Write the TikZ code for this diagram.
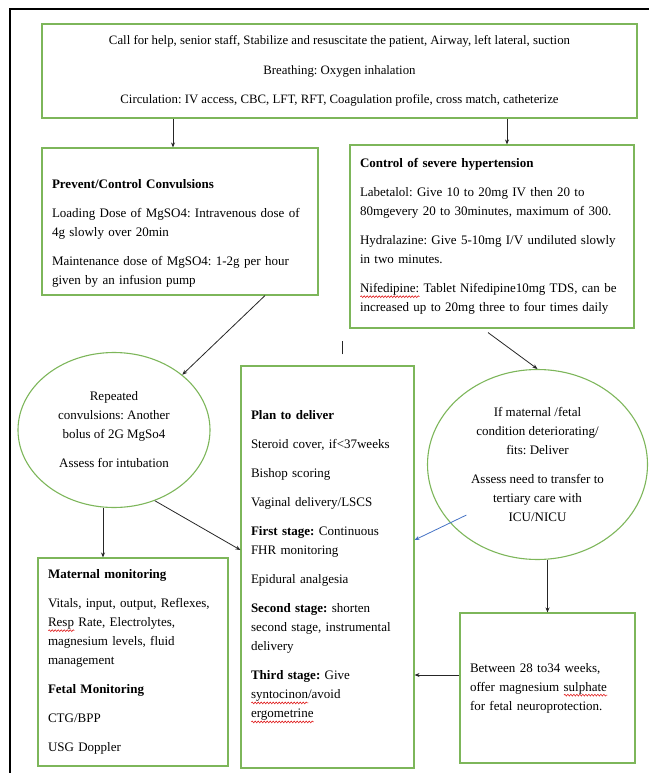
\documentclass[tikz,border=0pt]{standalone}
\usepackage{fontspec}
\setmainfont{Liberation Serif}
\usepackage{tikz}
\usetikzlibrary{arrows.meta,shapes.geometric,decorations.pathmorphing}
\definecolor{pegreen}{HTML}{7DB65A}
\definecolor{peblue}{HTML}{4472C4}
\definecolor{pedark}{HTML}{262626}
\definecolor{pered}{HTML}{E02020}
\newlength{\spellw}
\newcommand{\spellmark}[1]{\leavevmode\settowidth{\spellw}{#1}\rlap{\tikz[baseline=0pt,x=1pt,y=1pt]\draw[pered,line width=0.6pt,decorate,decoration={snake,amplitude=0.9pt,segment length=3pt}] (0pt,-4pt) -- (\the\spellw,-4pt);}#1}
\newcommand{\pgap}{\\[10pt]}
\frenchspacing

\begin{document}
\begin{tikzpicture}[x=1pt,y=-1pt,
  box/.style={draw=pegreen,line width=1.1pt,inner xsep=10pt,inner ysep=0pt,align=left,font=\fontsize{13}{19}\selectfont},
  blob/.style={ellipse,draw=pegreen,line width=1.1pt,inner sep=0pt,align=center,font=\fontsize{13}{19}\selectfont},
  arr/.style={-{Stealth[length=5pt,width=4pt]},pedark,line width=0.8pt}]
\useasboundingbox (0,0) rectangle (649,773);
\draw[line width=1.6pt] (10,773) -- (10,9) -- (649,9);
\node[box,align=center,minimum width=595pt,minimum height=94pt,font=\fontsize{12.8}{29.5}\selectfont] (top) at (339.5,71) {Call for help, senior staff, Stabilize and resuscitate the patient, Airway, left lateral, suction\\Breathing: Oxygen inhalation\\Circulation: IV access, CBC, LFT, RFT, Coagulation profile, cross match, catheterize};
\node[box,text width=256pt,minimum height=147pt] (prev) at (180,221.5) {\rule{0pt}{33pt}\textbf{Prevent/Control Convulsions}\pgap Loading Dose of MgSO4: Intravenous dose of\\4g slowly over 20min\pgap Maintenance dose of MgSO4: 1-2g per hour\\given by an infusion pump};
\node[box,text width=264pt,minimum height=183pt] (hyp) at (492,236.5) {\textbf{Control of severe hypertension}\pgap Labetalol: Give 10 to 20mg IV then 20 to\\80mgevery 20 to 30minutes, maximum of 300.\pgap Hydralazine: Give 5-10mg I/V undiluted slowly\\in two minutes.\pgap \spellmark{Nifedipine:} Tablet Nifedipine10mg TDS, can be\\increased up to 20mg three to four times daily};
\node[blob,minimum width=192pt,minimum height=155pt] (lell) at (114,430) {Repeated\\convulsions: Another\\bolus of 2G MgSo4\pgap Assess for intubation};
\node[box,text width=153pt,minimum height=402pt] (plan) at (327.5,567) {\textbf{Plan to deliver}\pgap Steroid cover, if<37weeks\pgap Bishop scoring\pgap Vaginal delivery/LSCS\pgap \textbf{First stage:} Continuous\\FHR monitoring\pgap Epidural analgesia\pgap \textbf{Second stage:} shorten\\second stage, instrumental\\delivery\pgap \textbf{Third stage:} Give\\\spellmark{syntocinon}/avoid\\\spellmark{ergometrine}};
\node[blob,minimum width=220pt,minimum height=190pt] (rell) at (537.5,464.5) {If maternal /fetal\\condition deteriorating/\\fits: Deliver\pgap Assess need to transfer to\\tertiary care with\\ICU/NICU};
\node[box,text width=170pt,minimum height=208pt] (mat) at (133,662) {\textbf{Maternal monitoring}\pgap Vitals, input, output, Reflexes,\\\spellmark{Resp} Rate, Electrolytes,\\magnesium levels, fluid\\management\pgap \textbf{Fetal Monitoring}\pgap CTG/BPP\pgap USG Doppler};
\node[box,text width=155pt,minimum height=150pt] (rbox) at (547.5,688) {Between 28 to34 weeks,\\offer magnesium \spellmark{sulphate}\\for fetal neuroprotection.};
\draw[arr] ([xshift=-7pt]prev.north |- top.south) -- ([xshift=-7pt]prev.north);
\draw[arr] ([xshift=15pt]hyp.north |- top.south) -- ([xshift=15pt]hyp.north);
\draw[arr] ([xshift=85pt]prev.south) -- (lell.north east);
\draw[arr] ([shift={(-4pt,-4pt)}]hyp.south) -- (rell.north);
\draw[arr] ([xshift=-11pt]lell.south) -- ([xshift=-11pt]lell.south |- mat.north);
\draw[arr] (lell.300) -- ([yshift=17pt]plan.west);
\draw[arr,peblue] ([shift={(7pt,17pt)}]rell.south west) -- ([yshift=27pt]plan.east);
\draw[arr] (rbox.north |- rell.south) -- (rbox.north);
\draw[arr] ([yshift=13pt]rbox.west) -- ([yshift=13pt]rbox.west -| plan.east);
\draw[pedark,line width=0.8pt] ([shift={(15pt,11pt)}]plan.north) -- ++(0pt,13pt);
\end{tikzpicture}
\end{document}
